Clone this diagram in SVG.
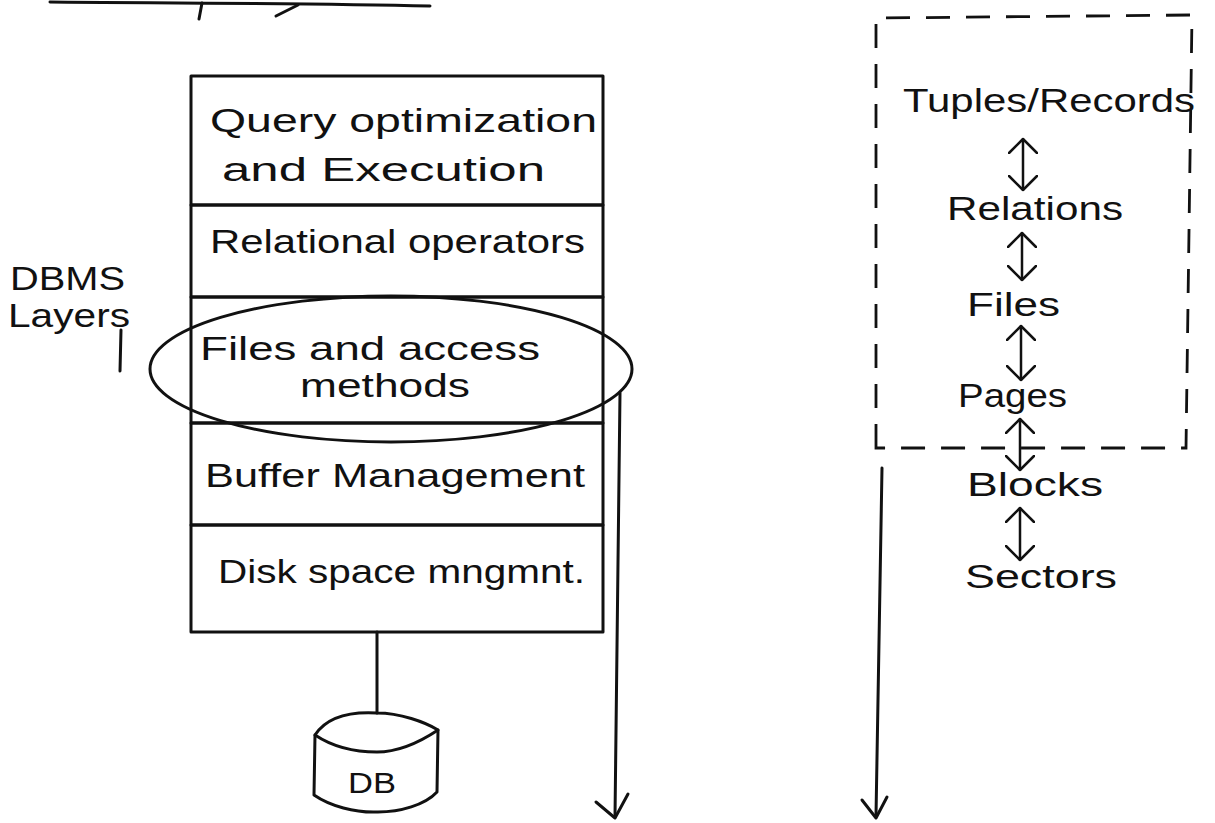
<svg xmlns="http://www.w3.org/2000/svg" width="1215" height="823" viewBox="0 0 1215 823">
  <style>
    .ink { fill: none; stroke: #111; stroke-width: 3; stroke-linecap: round; stroke-linejoin: round; }
    .thin { fill: none; stroke: #111; stroke-width: 2.5; stroke-linecap: round; }
    .dash { fill: none; stroke: #111; stroke-width: 2.8; stroke-dasharray: 24 16; }
    .hand { font-family: "Liberation Sans", "DejaVu Sans", sans-serif; font-size: 34px; fill: #111; }
    .hand-sm { font-family: "Liberation Sans", "DejaVu Sans", sans-serif; font-size: 30px; fill: #111; }
  </style>
  <defs>
    <!-- open V head, drawn along the line direction -->
    <marker id="vhead" viewBox="0 0 16 30" refX="15" refY="15" markerWidth="16" markerHeight="30" markerUnits="userSpaceOnUse" orient="auto-start-reverse">
      <path d="M1,1 L15,15 L1,29" fill="none" stroke="#111" stroke-width="2.5" stroke-linecap="round" stroke-linejoin="round"/>
    </marker>
  </defs>

  <rect width="1215" height="823" fill="#fff"/>

  <!-- underline of the heading at the top edge -->
  <g id="heading-rule">
    <path class="ink" d="M50,2 C150,3 300,3 430,6"/>
    <path class="ink" d="M202,3 L199,19" stroke-width="4"/>
    <path class="ink" d="M276,16 L298,5"/>
  </g>

  <!-- side label -->
  <g id="label-dbms">
    <text class="hand" x="10" y="290" textLength="115" lengthAdjust="spacingAndGlyphs">DBMS</text>
    <text class="hand" x="8" y="327" textLength="122" lengthAdjust="spacingAndGlyphs">Layers</text>
    <path class="ink" d="M121,330 L120,371"/>
  </g>

  <!-- layered stack -->
  <g id="layer-query">
    <rect class="ink" x="191" y="76" width="412" height="129"/>
    <text class="hand" x="210" y="132" textLength="387" lengthAdjust="spacingAndGlyphs">Query optimization</text>
    <text class="hand" x="222" y="181" textLength="323" lengthAdjust="spacingAndGlyphs">and Execution</text>
  </g>
  <g id="layer-relational">
    <rect class="ink" x="191" y="205" width="412" height="92"/>
    <text class="hand" x="210" y="253" textLength="375" lengthAdjust="spacingAndGlyphs">Relational operators</text>
  </g>
  <g id="layer-files">
    <rect class="ink" x="191" y="297" width="412" height="126"/>
    <text class="hand" x="200" y="360" textLength="340" lengthAdjust="spacingAndGlyphs">Files and access</text>
    <text class="hand" x="300" y="397" textLength="170" lengthAdjust="spacingAndGlyphs">methods</text>
    <ellipse class="ink" cx="391" cy="369" rx="241" ry="73"/>
  </g>
  <g id="layer-buffer">
    <rect class="ink" x="191" y="423" width="412" height="102"/>
    <text class="hand" x="205" y="487" textLength="380" lengthAdjust="spacingAndGlyphs">Buffer Management</text>
  </g>
  <g id="layer-disk">
    <rect class="ink" x="191" y="525" width="412" height="107"/>
    <text class="hand" x="218" y="583" textLength="367" lengthAdjust="spacingAndGlyphs">Disk space mngmnt.</text>
  </g>

  <!-- database cylinder -->
  <g id="db">
    <path class="ink" d="M315,735 C330,712 360,712 377,713 C400,713 425,722 438,730 C420,742 400,752 377,752 C350,752 330,745 315,735 Z"/>
    <path class="ink" d="M315,735 L314,795 C330,806 355,813 378,812 C400,812 425,805 437,792 L438,730"/>
    <text class="hand-sm" x="348" y="793" textLength="48" lengthAdjust="spacingAndGlyphs">DB</text>
  </g>

  <!-- dashed grouping box -->
  <g id="upper-levels-box">
    <path class="dash" d="M876,448 L876,18 L1192,15 L1186,448 Z"/>
  </g>

  <!-- storage levels -->
  <g id="level-tuples">
    <text class="hand" x="903" y="112" textLength="292" lengthAdjust="spacingAndGlyphs">Tuples/Records</text>
  </g>
  <g id="level-relations">
    <text class="hand" x="947" y="220" textLength="176" lengthAdjust="spacingAndGlyphs">Relations</text>
  </g>
  <g id="level-files">
    <text class="hand" x="967" y="316" textLength="93" lengthAdjust="spacingAndGlyphs">Files</text>
  </g>
  <g id="level-pages">
    <text class="hand" x="958" y="407" textLength="109" lengthAdjust="spacingAndGlyphs">Pages</text>
  </g>
  <g id="level-blocks">
    <text class="hand" x="967" y="496" textLength="136" lengthAdjust="spacingAndGlyphs">Blocks</text>
  </g>
  <g id="level-sectors">
    <text class="hand" x="965" y="588" textLength="152" lengthAdjust="spacingAndGlyphs">Sectors</text>
  </g>

  <!-- connectors -->
  <g id="connectors">
    <!-- stack to database -->
    <line class="ink" x1="377" y1="632" x2="377" y2="713"/>
    <!-- long arrow from the circled layer -->
    <path class="ink" d="M620,393 L615,817"/>
    <path class="ink" d="M596,802 L615,818 L628,794"/>
    <!-- long arrow on the right -->
    <path class="ink" d="M882,468 L876,816"/>
    <path class="ink" d="M862,800 L876,818 L887,797"/>
    <!-- level-to-level double arrows -->
    <line class="thin" x1="1023" y1="139" x2="1023" y2="190" marker-start="url(#vhead)" marker-end="url(#vhead)"/>
    <line class="thin" x1="1022" y1="233" x2="1022" y2="280" marker-start="url(#vhead)" marker-end="url(#vhead)"/>
    <line class="thin" x1="1021" y1="326" x2="1021" y2="380" marker-start="url(#vhead)" marker-end="url(#vhead)"/>
    <line class="thin" x1="1020" y1="419" x2="1020" y2="470" marker-start="url(#vhead)" marker-end="url(#vhead)"/>
    <line class="thin" x1="1020" y1="508" x2="1020" y2="560" marker-start="url(#vhead)" marker-end="url(#vhead)"/>
  </g>
</svg>
